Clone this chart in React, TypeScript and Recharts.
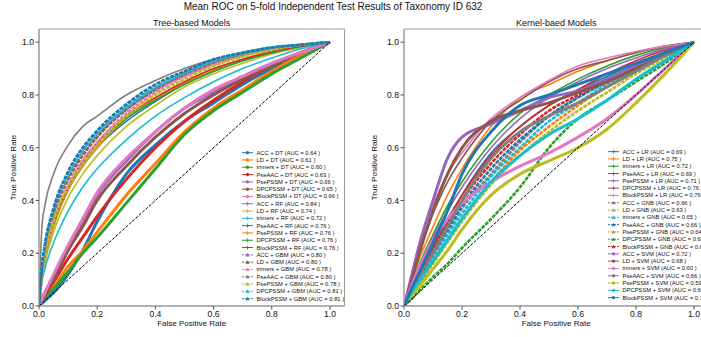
import React from 'react';
import { LineChart, Line, XAxis, YAxis, ReferenceLine, ReferenceArea, Legend } from 'recharts';

const TITLE = 'Mean ROC on 5-fold Independent Test Results of Taxonomy ID 632';
const LEFT_TITLE = 'Tree-based Models';
const RIGHT_TITLE = 'Kernel-baed Models';
const X_LABEL = 'False Positive Rate';
const Y_LABEL = 'True Positive Rate';
const TICKS = [0, 0.2, 0.4, 0.6, 0.8, 1.0];
const FEATURES = ['ACC', 'LD', 'trimers', 'PseAAC', 'PsePSSM', 'DPCPSSM', 'BlockPSSM'];
const COLORS = ['#1f77b4', '#ff7f0e', '#2ca02c', '#d62728', '#9467bd', '#8c564b', '#e377c2', '#7f7f7f', '#bcbd22', '#17becf'];

// shared false-positive-rate grid
const FPR = [0, 0.01, 0.02, 0.05, 0.1, 0.15, 0.2, 0.3, 0.4, 0.5, 0.6, 0.7, 0.8, 0.9, 1.0];

// AUC labels
const DT_AUC = [0.64, 0.61, 0.60, 0.63, 0.66, 0.65, 0.66];
const RF_AUC = [0.84, 0.74, 0.72, 0.76, 0.76, 0.76, 0.76];
const GBM_AUC = [0.80, 0.80, 0.78, 0.80, 0.78, 0.81, 0.81];
const LR_AUC = [0.69, 0.75, 0.72, 0.69, 0.71, 0.76, 0.76];
const GNB_AUC = [0.66, 0.63, 0.65, 0.66, 0.64, 0.60, 0.67];
const SVM_AUC = [0.72, 0.68, 0.60, 0.66, 0.59, 0.63, 0.70];

// True positive rates (one row per feature set, in FEATURES order)
const DT_TPR = [
  [0, 0.01, 0.02, 0.05, 0.12, 0.21, 0.32, 0.50, 0.61, 0.70, 0.77, 0.84, 0.90, 0.95, 1],
  [0, 0.015, 0.03, 0.07, 0.15, 0.21, 0.28, 0.42, 0.54, 0.66, 0.75, 0.82, 0.89, 0.95, 1],
  [0, 0.015, 0.03, 0.065, 0.13, 0.20, 0.26, 0.39, 0.52, 0.65, 0.74, 0.81, 0.88, 0.94, 1],
  [0, 0.02, 0.04, 0.09, 0.18, 0.26, 0.34, 0.48, 0.60, 0.70, 0.78, 0.85, 0.91, 0.96, 1],
  [0, 0.025, 0.05, 0.11, 0.22, 0.32, 0.42, 0.55, 0.66, 0.75, 0.81, 0.87, 0.92, 0.96, 1],
  [0, 0.025, 0.05, 0.10, 0.21, 0.30, 0.40, 0.53, 0.64, 0.73, 0.80, 0.86, 0.91, 0.96, 1],
  [0, 0.025, 0.05, 0.12, 0.23, 0.33, 0.43, 0.56, 0.66, 0.75, 0.82, 0.87, 0.92, 0.96, 1],
];
const RF_TPR = [
  [0, 0.30, 0.38, 0.50, 0.61, 0.68, 0.72, 0.80, 0.855, 0.90, 0.935, 0.96, 0.98, 0.99, 1],
  [0, 0.10, 0.16, 0.28, 0.41, 0.50, 0.57, 0.68, 0.76, 0.83, 0.88, 0.92, 0.955, 0.98, 1],
  [0, 0.09, 0.14, 0.24, 0.36, 0.45, 0.52, 0.63, 0.72, 0.79, 0.85, 0.90, 0.94, 0.975, 1],
  [0, 0.12, 0.18, 0.31, 0.44, 0.53, 0.60, 0.70, 0.775, 0.84, 0.89, 0.93, 0.96, 0.985, 1],
  [0, 0.11, 0.18, 0.30, 0.44, 0.53, 0.60, 0.71, 0.785, 0.845, 0.895, 0.935, 0.965, 0.985, 1],
  [0, 0.12, 0.19, 0.31, 0.45, 0.54, 0.61, 0.71, 0.78, 0.84, 0.89, 0.93, 0.96, 0.985, 1],
  [0, 0.12, 0.19, 0.32, 0.45, 0.55, 0.62, 0.72, 0.79, 0.85, 0.90, 0.935, 0.965, 0.985, 1],
];
const GBM_TPR = [
  [0, 0.13, 0.21, 0.35, 0.49, 0.58, 0.645, 0.745, 0.82, 0.875, 0.92, 0.95, 0.975, 0.99, 1],
  [0, 0.14, 0.22, 0.35, 0.48, 0.57, 0.64, 0.745, 0.82, 0.875, 0.92, 0.95, 0.975, 0.99, 1],
  [0, 0.12, 0.19, 0.32, 0.46, 0.55, 0.62, 0.73, 0.81, 0.87, 0.915, 0.95, 0.975, 0.99, 1],
  [0, 0.14, 0.22, 0.36, 0.49, 0.58, 0.65, 0.75, 0.825, 0.88, 0.925, 0.955, 0.975, 0.99, 1],
  [0, 0.12, 0.19, 0.32, 0.45, 0.54, 0.61, 0.72, 0.80, 0.86, 0.91, 0.945, 0.97, 0.99, 1],
  [0, 0.15, 0.23, 0.37, 0.50, 0.59, 0.655, 0.755, 0.83, 0.885, 0.93, 0.96, 0.98, 0.99, 1],
  [0, 0.15, 0.23, 0.37, 0.51, 0.60, 0.665, 0.765, 0.84, 0.89, 0.935, 0.96, 0.98, 0.99, 1],
];
const LR_TPR = [
  [0, 0.025, 0.05, 0.12, 0.22, 0.32, 0.42, 0.58, 0.68, 0.76, 0.82, 0.87, 0.92, 0.96, 1],
  [0, 0.035, 0.07, 0.17, 0.30, 0.42, 0.52, 0.68, 0.79, 0.84, 0.89, 0.93, 0.96, 0.985, 1],
  [0, 0.03, 0.06, 0.15, 0.27, 0.38, 0.47, 0.62, 0.73, 0.80, 0.86, 0.91, 0.95, 0.98, 1],
  [0, 0.025, 0.05, 0.12, 0.23, 0.33, 0.42, 0.57, 0.68, 0.76, 0.82, 0.88, 0.93, 0.97, 1],
  [0, 0.03, 0.06, 0.14, 0.26, 0.36, 0.45, 0.60, 0.71, 0.79, 0.85, 0.90, 0.94, 0.975, 1],
  [0, 0.045, 0.09, 0.20, 0.35, 0.47, 0.56, 0.70, 0.78, 0.85, 0.90, 0.93, 0.96, 0.985, 1],
  [0, 0.05, 0.10, 0.22, 0.38, 0.50, 0.58, 0.71, 0.79, 0.855, 0.91, 0.94, 0.965, 0.985, 1],
];
const GNB_TPR = [
  [0, 0.02, 0.04, 0.10, 0.19, 0.28, 0.37, 0.50, 0.62, 0.72, 0.79, 0.85, 0.90, 0.95, 1],
  [0, 0.015, 0.03, 0.08, 0.16, 0.24, 0.32, 0.46, 0.57, 0.66, 0.74, 0.81, 0.88, 0.94, 1],
  [0, 0.02, 0.04, 0.09, 0.18, 0.27, 0.35, 0.49, 0.60, 0.70, 0.77, 0.84, 0.89, 0.95, 1],
  [0, 0.02, 0.04, 0.10, 0.20, 0.29, 0.38, 0.52, 0.63, 0.72, 0.79, 0.85, 0.90, 0.95, 1],
  [0, 0.015, 0.03, 0.08, 0.17, 0.25, 0.33, 0.47, 0.59, 0.68, 0.76, 0.83, 0.89, 0.95, 1],
  [0, 0.01, 0.02, 0.055, 0.11, 0.16, 0.22, 0.33, 0.45, 0.60, 0.71, 0.78, 0.85, 0.92, 1],
  [0, 0.02, 0.04, 0.11, 0.21, 0.31, 0.40, 0.54, 0.65, 0.74, 0.80, 0.86, 0.91, 0.96, 1],
];
const SVM_TPR = [
  [0, 0.04, 0.08, 0.22, 0.40, 0.56, 0.64, 0.69, 0.74, 0.79, 0.815, 0.86, 0.91, 0.96, 1],
  [0, 0.035, 0.07, 0.19, 0.36, 0.50, 0.60, 0.70, 0.74, 0.77, 0.81, 0.85, 0.90, 0.95, 1],
  [0, 0.03, 0.06, 0.14, 0.25, 0.33, 0.39, 0.47, 0.53, 0.58, 0.64, 0.71, 0.80, 0.90, 1],
  [0, 0.02, 0.04, 0.10, 0.20, 0.30, 0.40, 0.56, 0.66, 0.72, 0.77, 0.83, 0.89, 0.95, 1],
  [0, 0.015, 0.03, 0.07, 0.14, 0.21, 0.29, 0.42, 0.50, 0.55, 0.60, 0.67, 0.77, 0.88, 1],
  [0, 0.02, 0.04, 0.09, 0.17, 0.25, 0.33, 0.47, 0.57, 0.65, 0.71, 0.78, 0.86, 0.93, 1],
  [0, 0.025, 0.05, 0.12, 0.24, 0.36, 0.50, 0.66, 0.76, 0.80, 0.84, 0.88, 0.92, 0.96, 1],
];

type Marker = 'circle' | 'triangle' | 'plus';
interface Group { model: string; tprs: number[][]; aucs: number[]; marker: Marker; dashed: boolean }
interface Series { key: string; name: string; color: string; marker: Marker; dashed: boolean; values: number[] }

const LEFT_GROUPS: Group[] = [
  { model: 'DT', tprs: DT_TPR, aucs: DT_AUC, marker: 'circle', dashed: false },
  { model: 'RF', tprs: RF_TPR, aucs: RF_AUC, marker: 'plus', dashed: false },
  { model: 'GBM', tprs: GBM_TPR, aucs: GBM_AUC, marker: 'triangle', dashed: true },
];
const RIGHT_GROUPS: Group[] = [
  { model: 'LR', tprs: LR_TPR, aucs: LR_AUC, marker: 'plus', dashed: false },
  { model: 'GNB', tprs: GNB_TPR, aucs: GNB_AUC, marker: 'triangle', dashed: true },
  { model: 'SVM', tprs: SVM_TPR, aucs: SVM_AUC, marker: 'circle', dashed: false },
];

function buildSeries(groups: Group[]): Series[] {
  const out: Series[] = [];
  groups.forEach((g) => {
    FEATURES.forEach((f, j) => {
      const idx = out.length;
      out.push({
        key: 's' + idx,
        name: `${f} + ${g.model} (AUC = ${g.aucs[j].toFixed(2)} )`,
        color: COLORS[idx % COLORS.length],
        marker: g.marker,
        dashed: g.dashed,
        values: g.tprs[j],
      });
    });
  });
  return out;
}

function buildRows(series: Series[]) {
  return FPR.map((f, i) => {
    const row: Record<string, number> = { fpr: f };
    series.forEach((s) => { row[s.key] = s.values[i]; });
    return row;
  });
}

const LEFT_SERIES = buildSeries(LEFT_GROUPS);
const RIGHT_SERIES = buildSeries(RIGHT_GROUPS);
const LEFT_ROWS = buildRows(LEFT_SERIES);
const RIGHT_ROWS = buildRows(RIGHT_SERIES);

const FONT = '"Liberation Sans", Arial, sans-serif';
const ROW_H = 7.3;

function Glyph({ marker, cx, cy, color }: { marker: Marker; cx: number; cy: number; color: string }) {
  if (marker === 'circle') return <circle cx={cx} cy={cy} r={1.7} fill={color} />;
  if (marker === 'triangle') {
    const s = 2;
    return <polygon points={`${cx},${cy - s} ${cx - s},${cy + s * 0.8} ${cx + s},${cy + s * 0.8}`} fill={color} />;
  }
  return (
    <g stroke={color} strokeWidth={0.8}>
      <line x1={cx - 2} x2={cx + 2} y1={cy} y2={cy} />
      <line x1={cx} x2={cx} y1={cy - 2} y2={cy + 2} />
    </g>
  );
}

function LegendBox({ series }: { series: Series[] }) {
  return (
    <svg width={130} height={series.length * ROW_H + 2} style={{ display: 'block', overflow: 'visible' }}>
      {series.map((s, i) => {
        const cy = ROW_H / 2 + i * ROW_H;
        return (
          <g key={s.key}>
            <line x1={0} x2={11} y1={cy} y2={cy} stroke={s.color} strokeWidth={1}
              strokeDasharray={s.dashed ? '2 1' : undefined} />
            <Glyph marker={s.marker} cx={5.5} cy={cy} color={s.color} />
            <text x={14.5} y={cy} dy="0.35em" fontSize={5.8} fill="#111" fontFamily={FONT}>{s.name}</text>
          </g>
        );
      })}
    </svg>
  );
}

const fmt = (v: number) => v.toFixed(1);

function strokeW(m: Marker) {
  if (m === 'circle') return 3;
  if (m === 'triangle') return 2.6;
  return 1.6;
}

function RocPanel({ series, rows, yAxisWidth, marginRight, legendLeft, legendTop }:
  { series: Series[]; rows: Record<string, number>[]; yAxisWidth: number; marginRight: number; legendLeft: number; legendTop: number }) {
  const tick = { fontSize: 8.6, fill: '#111', fontFamily: FONT };
  return (
    <LineChart width={360} height={337} data={rows} margin={{ top: 29, right: marginRight, bottom: 0, left: 0 }}>
      <XAxis type="number" dataKey="fpr" domain={[0, 1.05]} ticks={TICKS} tickFormatter={fmt} allowDataOverflow
        height={31} tickSize={3.5} tickMargin={1.5} interval={0} tick={tick}
        axisLine={{ stroke: '#999' }} tickLine={{ stroke: '#555' }} />
      <YAxis type="number" domain={[0, 1.05]} ticks={TICKS} tickFormatter={fmt} allowDataOverflow
        width={yAxisWidth} tickSize={3.5} tickMargin={1.5} interval={0} tick={tick}
        axisLine={{ stroke: '#999' }} tickLine={{ stroke: '#555' }} />
      <ReferenceArea x1={0} x2={1.05} y1={0} y2={1.05} fill="none" stroke="#999" strokeWidth={1} />
      {series.map((s) => (
        <Line key={s.key} dataKey={s.key} name={s.name} type="monotone" stroke={s.color}
          strokeWidth={strokeW(s.marker)} strokeDasharray={s.dashed ? '4 1' : undefined}
          dot={false} activeDot={false} isAnimationActive={false} legendType="none" />
      ))}
      <ReferenceLine segment={[{ x: 0, y: 0 }, { x: 1, y: 1 }]} stroke="#000" strokeWidth={1} strokeDasharray="3 1.5" />
      <Legend layout="vertical" align="center" verticalAlign="middle"
        wrapperStyle={{ left: legendLeft, top: legendTop, width: 130, height: series.length * ROW_H + 2 }}
        content={() => <LegendBox series={series} />} />
    </LineChart>
  );
}

export default function App() {
  return (
    <div style={{ position: 'absolute', left: 0, top: 0, width: 701, height: 337, overflow: 'hidden', background: '#fff', fontFamily: FONT }}>
      <div style={{ position: 'absolute', left: 0, top: 0 }}>
        <RocPanel series={LEFT_SERIES} rows={LEFT_ROWS} yAxisWidth={39} marginRight={15.5} legendLeft={242} legendTop={148.6} />
      </div>
      <div style={{ position: 'absolute', left: 360, top: 0 }}>
        <RocPanel series={RIGHT_SERIES} rows={RIGHT_ROWS} yAxisWidth={44} marginRight={11.5} legendLeft={247.5} legendTop={148} />
      </div>
      <svg width={701} height={337} style={{ position: 'absolute', left: 0, top: 0, pointerEvents: 'none' }}>
        <text x={333} y={10} textAnchor="middle" fontSize={10} fill="#111" fontFamily={FONT}>{TITLE}</text>
        <text x={191.7} y={26} textAnchor="middle" fontSize={9} fill="#111" fontFamily={FONT}>{LEFT_TITLE}</text>
        <text x={556.2} y={26} textAnchor="middle" fontSize={9} fill="#111" fontFamily={FONT}>{RIGHT_TITLE}</text>
        <text x={191.7} y={326} textAnchor="middle" fontSize={8} fill="#111" fontFamily={FONT}>{X_LABEL}</text>
        <text x={556.2} y={326} textAnchor="middle" fontSize={8} fill="#111" fontFamily={FONT}>{X_LABEL}</text>
        <text x={15.5} y={167.5} textAnchor="middle" fontSize={8} fill="#111" fontFamily={FONT}
          transform="rotate(-90 15.5 167.5)">{Y_LABEL}</text>
        <text x={377} y={167.5} textAnchor="middle" fontSize={8} fill="#111" fontFamily={FONT}
          transform="rotate(-90 377 167.5)">{Y_LABEL}</text>
      </svg>
    </div>
  );
}
